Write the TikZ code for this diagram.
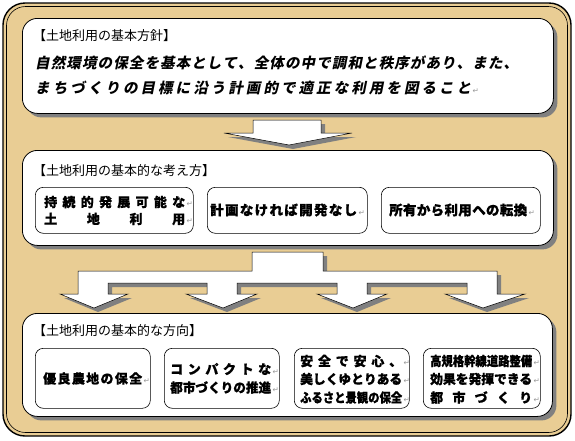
\documentclass[tikz,border=0pt]{standalone}
\usepackage{fontspec}
\usepackage{graphicx}
\usetikzlibrary{shadows}
\newfontfamily\jp{Noto Sans CJK JP}
\newfontfamily\jph[BoldFeatures={FakeBold=0.8}]{Noto Sans CJK JP}
\newfontfamily\jpsl[FakeSlant=0.2]{Noto Sans CJK JP}
\newfontfamily\dv{DejaVu Sans}
\definecolor{tanfill}{RGB}{233,205,148}
\definecolor{shad}{RGB}{128,128,128}
\def\sprend{SPREND}
\def\sprA#1{\ifx\sprend#1\unskip\else#1\hfill\expandafter\sprA\fi}
\newlength\fitw
\newcommand\fitline[2]{\setlength\fitw{#1}\sbox0{#2}\ifdim\wd0>\fitw\resizebox{\fitw}{\height}{#2}\else\hbox to\fitw{\sprA#2\sprend}\fi}
\newcommand\retm{\hspace{1.5pt}{\dv\mdseries\fontsize{7.5}{7.5}\selectfont\color{black!40}↵}}
\newcommand\bigarrowpath[1]{\path[#1] (253,120) -- (321,120) -- (321,133) -- (352,133) -- (289,145) -- (224,133) -- (253,133) -- cycle;}
\newcommand\brancharrowpath[1]{\path[#1] (252,252) -- (323,252) -- (323,271) -- (497,271) -- (497,294) -- (525,294) -- (483,308) -- (445,294) -- (467,294) -- (467,283) -- (367,283) -- (367,294) -- (387,294) -- (353,308) -- (317,294) -- (337,294) -- (337,283) -- (237,283) -- (237,294) -- (257,294) -- (223,308) -- (186,294) -- (207,294) -- (207,283) -- (108,283) -- (108,294) -- (128,294) -- (94,308) -- (60,294) -- (78,294) -- (78,271) -- (252,271) -- cycle;}
\tikzset{
  bigbox/.style={draw=black, fill=white, line width=0.8pt, rounded corners=15pt, anchor=north west, inner sep=0pt,
    drop shadow={shadow xshift=4pt, shadow yshift=-4pt, fill=shad, opacity=1}},
  smallbox/.style={draw=black, fill=white, line width=0.6pt, rounded corners=8pt, anchor=north west, inner sep=0pt},
  ttl/.style={anchor=west, inner sep=0pt, font=\jp\fontsize{13}{13}\selectfont},
  slt/.style={anchor=west, inner sep=0pt, font=\jpsl\bfseries\fontsize{14.5}{14.5}\selectfont},
  bt/.style={anchor=west, inner sep=0pt, font=\jph\bfseries\fontsize{13}{13}\selectfont},
  arr/.style={fill=white, draw=black, line width=0.5pt},
  arrsh/.style={fill=shad, shift={(4,4)}}
}
\begin{document}
\begin{tikzpicture}[x=1pt,y=-1pt]
\useasboundingbox (0,0) rectangle (575,440);
% outer frame
\draw[line width=1.4pt, rounded corners=22pt, fill=tanfill] (3,3) rectangle (571,436);
\draw[line width=0.6pt, rounded corners=19pt] (6.5,6.5) rectangle (567.5,432.5);
% box 1
\node[bigbox, minimum width=531pt, minimum height=95pt] (box1) at (22,18) {};
\node[ttl] (t1) at (33,36) {【土地利用の基本方針】};
\node[slt] (l1) at (35,63) {\fitline{483pt}{自然環境の保全を基本として、全体の中で調和と秩序があり、また、}};
\node[slt] (l2) at (35,88) {\fitline{436pt}{まちづくりの目標に沿う計画的で適正な利用を図ること}\retm};
% arrow 1
\bigarrowpath{arrsh}
\bigarrowpath{arr}
% box 2
\node[bigbox, minimum width=531pt, minimum height=95pt] (box2) at (22,150) {};
\node[ttl] (t2) at (33,171) {【土地利用の基本的な考え方】};
\node[smallbox, minimum width=158pt, minimum height=46pt] (b2a) at (35,187) {};
\node[smallbox, minimum width=160pt, minimum height=46pt] (b2b) at (207,187) {};
\node[smallbox, minimum width=159pt, minimum height=46pt] (b2c) at (381,187) {};
\node[bt] (b2a1) at (44,202) {\fitline{141pt}{持続的発展可能な}\retm};
\node[bt] (b2a2) at (44,219) {\fitline{141pt}{土地利用}\retm};
\node[bt, font=\jph\bfseries\fontsize{13.5}{13.5}\selectfont] (b2b1) at (210,210) {\fitline{147pt}{計画なければ開発なし}\retm};
\node[bt, font=\jph\bfseries\fontsize{13.5}{13.5}\selectfont] (b2c1) at (389,210) {\fitline{138pt}{所有から利用への転換}\retm};
% branching arrow
\brancharrowpath{arrsh}
\brancharrowpath{arr}
% box 3
\node[bigbox, minimum width=530pt, minimum height=103pt] (box3) at (22,313) {};
\node[ttl] (t3) at (33,331) {【土地利用の基本的な方向】};
\node[smallbox, minimum width=115pt, minimum height=60pt] (b3a) at (35,348) {};
\node[smallbox, minimum width=115pt, minimum height=60pt] (b3b) at (164,348) {};
\node[smallbox, minimum width=115pt, minimum height=60pt] (b3c) at (294,348) {};
\node[smallbox, minimum width=117pt, minimum height=60pt] (b3d) at (423,348) {};
\node[bt] (b3a1) at (43,378.5) {\fitline{99pt}{優良農地の保全}\retm};
\node[bt] (b3b1) at (170,369) {\fitline{101pt}{コンパクトな}\retm};
\node[bt] (b3b2) at (170,387.5) {\fitline{101pt}{都市づくりの推進}\retm};
\node[bt] (b3c1) at (300,361) {\fitline{102pt}{安全で安心、}\retm};
\node[bt] (b3c2) at (300,379) {\fitline{102pt}{美しくゆとりある}\retm};
\node[bt] (b3c3) at (300,397.5) {\fitline{102pt}{ふるさと景観の保全}\retm};
\node[bt] (b3d1) at (430,361) {\fitline{102pt}{高規格幹線道路整備}\retm};
\node[bt] (b3d2) at (430,379) {\fitline{102pt}{効果を発揮できる}\retm};
\node[bt] (b3d3) at (430,397.5) {\fitline{102pt}{都市づくり}\retm};
\end{tikzpicture}
\end{document}
